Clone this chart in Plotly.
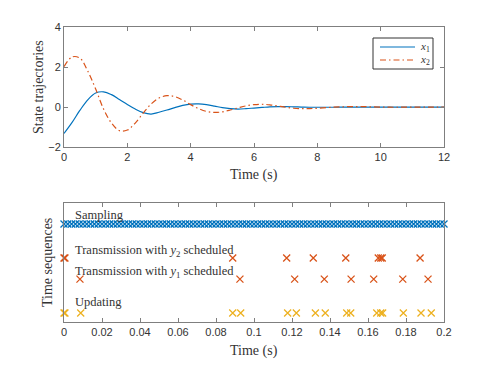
import plotly.graph_objects as go

# top panel: state trajectories
t = [0, 0.25, 0.5, 0.75, 1.0, 1.25, 1.5, 1.75, 2.0, 2.25, 2.5, 2.75, 3.0, 3.25,
     3.5, 3.75, 4.0, 4.25, 4.5, 4.75, 5.0, 5.25, 5.5, 5.75, 6.0, 6.25, 6.5,
     6.75, 7.0, 7.25, 7.5, 7.75, 8.0, 8.5, 9.0, 9.5, 10.0, 10.5, 11.0, 11.5, 12.0]
x1 = [-1.32, -0.78, -0.17, 0.36, 0.70, 0.76, 0.62, 0.38, 0.13, -0.10, -0.28,
      -0.35, -0.26, -0.15, -0.03, 0.08, 0.15, 0.16, 0.12, 0.05, -0.03, -0.08,
      -0.10, -0.08, -0.05, -0.02, 0.01, 0.02, 0.02, 0.01, 0.0, -0.01, -0.01,
      -0.01, 0.0, 0.0, 0.0, 0.0, 0.0, 0.0, 0.0]
x2 = [2.02, 2.50, 2.45, 1.80, 0.90, -0.10, -0.80, -1.18, -1.15, -0.80, -0.30,
      0.15, 0.45, 0.57, 0.52, 0.35, 0.12, -0.08, -0.22, -0.27, -0.24, -0.15,
      -0.04, 0.06, 0.12, 0.14, 0.11, 0.05, -0.01, -0.06, -0.08, -0.08, -0.06,
      -0.01, 0.02, 0.02, 0.0, -0.01, 0.0, 0.0, 0.0]

# bottom panel: event times (s)
sampling = [0.000, 0.002, 0.004, 0.006, 0.008, 0.010, 0.012, 0.014, 0.016, 0.018,
            0.020, 0.022, 0.024, 0.026, 0.028, 0.030, 0.032, 0.034, 0.036, 0.038,
            0.040, 0.042, 0.044, 0.046, 0.048, 0.050, 0.052, 0.054, 0.056, 0.058,
            0.060, 0.062, 0.064, 0.066, 0.068, 0.070, 0.072, 0.074, 0.076, 0.078,
            0.080, 0.082, 0.084, 0.086, 0.088, 0.090, 0.092, 0.094, 0.096, 0.098,
            0.100, 0.102, 0.104, 0.106, 0.108, 0.110, 0.112, 0.114, 0.116, 0.118,
            0.120, 0.122, 0.124, 0.126, 0.128, 0.130, 0.132, 0.134, 0.136, 0.138,
            0.140, 0.142, 0.144, 0.146, 0.148, 0.150, 0.152, 0.154, 0.156, 0.158,
            0.160, 0.162, 0.164, 0.166, 0.168, 0.170, 0.172, 0.174, 0.176, 0.178,
            0.180, 0.182, 0.184, 0.186, 0.188, 0.190, 0.192, 0.194, 0.196, 0.198,
            0.200]
trans_y2 = [0.0, 0.0005, 0.0888, 0.1172, 0.1312, 0.1483, 0.1654, 0.1667, 0.1675, 0.1874]
trans_y1 = [0.0084, 0.0926, 0.1214, 0.1370, 0.1511, 0.1630, 0.1783, 0.1916]
updating = [0.0, 0.0005, 0.0088, 0.0888, 0.0930, 0.1177, 0.1223, 0.1323, 0.1375,
            0.1488, 0.1509, 0.1646, 0.1667, 0.1677, 0.1786, 0.1879, 0.1933]

BLUE = "#0072BD"
ORANGE = "#D95319"
YELLOW = "#EDB120"
SERIF = "Liberation Serif, serif"
SANS = "Liberation Sans, Arial, sans-serif"
AX = "#7f7f7f"
TXT = "#333"
DASHDOT = "6px,3px,1.5px,3px"

fig = go.Figure()

fig.add_trace(go.Scatter(x=t, y=x1, mode="lines", line=dict(color=BLUE, width=1.2, shape="spline"),
                         name="x1", showlegend=False, xaxis="x", yaxis="y"))
fig.add_trace(go.Scatter(x=t, y=x2, mode="lines",
                         line=dict(color=ORANGE, width=1.2, shape="spline", dash=DASHDOT),
                         name="x2", showlegend=False, xaxis="x", yaxis="y"))

levels = {"sampling": 0.824, "y2": 0.538, "y1": 0.361, "upd": 0.076}


def marks(xs, level, color):
    return go.Scatter(x=xs, y=[level] * len(xs), mode="markers", showlegend=False,
                      marker=dict(symbol="x-thin", size=7, line=dict(color=color, width=1.3)),
                      xaxis="x2", yaxis="y2", cliponaxis=False)


fig.add_trace(marks(sampling, levels["sampling"], BLUE))
fig.add_trace(marks(trans_y2, levels["y2"], ORANGE))
fig.add_trace(marks(trans_y1, levels["y1"], ORANGE))
fig.add_trace(marks(updating, levels["upd"], YELLOW))

labels = [("Sampling", 0.90),
          ("Transmission with <i>y</i><sub>2</sub> scheduled", 0.60),
          ("Transmission with <i>y</i><sub>1</sub> scheduled", 0.42),
          ("Updating", 0.165)]
for txt, yy in labels:
    fig.add_annotation(x=0.0045, y=yy, xref="x2", yref="y2", text=txt, showarrow=False,
                       xanchor="left", yanchor="middle", font=dict(family=SERIF, size=12.5, color=TXT))


def px_x(px):
    return (px - 64) / 380


def px_y(py):
    return (322 - py) / 295


# axis titles placed by hand (positions in reference pixels)
titles = [("Time (s)", 254, 175, 0), ("Time (s)", 254, 351, 0),
          ("State trajectories", 38, 87, -90), ("Time sequences", 47, 263, -90)]
for txt, px, py, ang in titles:
    fig.add_annotation(x=px_x(px), y=px_y(py), xref="paper", yref="paper", text=txt,
                       showarrow=False, textangle=ang, xanchor="center", yanchor="middle",
                       font=dict(family=SERIF, size=14, color=TXT))

# compact MATLAB-style legend box
fig.add_shape(type="rect", xref="paper", yref="paper", x0=px_x(373), x1=px_x(433),
              y0=px_y(69), y1=px_y(38), line=dict(color="#333", width=1), fillcolor="white")
for name, color, dash, py in [("<i>x</i><sub>1</sub>", BLUE, "solid", 47),
                              ("<i>x</i><sub>2</sub>", ORANGE, DASHDOT, 60)]:
    fig.add_shape(type="line", xref="paper", yref="paper", x0=px_x(380), x1=px_x(415),
                  y0=px_y(py), y1=px_y(py), line=dict(color=color, width=1.2, dash=dash))
    fig.add_annotation(x=px_x(418), y=px_y(py), xref="paper", yref="paper", text=name,
                       showarrow=False, xanchor="left", yanchor="middle",
                       font=dict(family=SERIF, size=11, color=TXT))

axis_common = dict(showline=True, linecolor=AX, linewidth=1, mirror="ticks", ticks="inside",
                   ticklen=4, tickcolor=AX, showgrid=False, zeroline=False, automargin=False,
                   tickfont=dict(family=SANS, size=11, color=TXT))

# page body has an 8px margin, so the figure is shrunk to fit the window
fig.update_layout(
    width=475, height=352,
    margin=dict(l=56, r=39, t=19, b=38, autoexpand=False),
    paper_bgcolor="white", plot_bgcolor="white",
    showlegend=False,
    xaxis=dict(domain=[0, 1], anchor="y", range=[0, 12], tickvals=[0, 2, 4, 6, 8, 10, 12],
               **axis_common),
    yaxis=dict(domain=[0.593, 1], anchor="x", range=[-2, 4], tickvals=[-2, 0, 2, 4],
               **axis_common),
    xaxis2=dict(domain=[0, 1], anchor="y2", range=[0, 0.2],
                tickvals=[0, 0.02, 0.04, 0.06, 0.08, 0.1, 0.12, 0.14, 0.16, 0.18, 0.2],
                ticktext=["0", "0.02", "0.04", "0.06", "0.08", "0.1", "0.12", "0.14", "0.16", "0.18", "0.2"],
                **axis_common),
    yaxis2=dict(domain=[0, 0.403], anchor="x2", range=[0, 1], showline=True, linecolor=AX, mirror=True,
                showticklabels=False, ticks="", showgrid=False, zeroline=False, automargin=False),
)

fig.write_html("out.html")
